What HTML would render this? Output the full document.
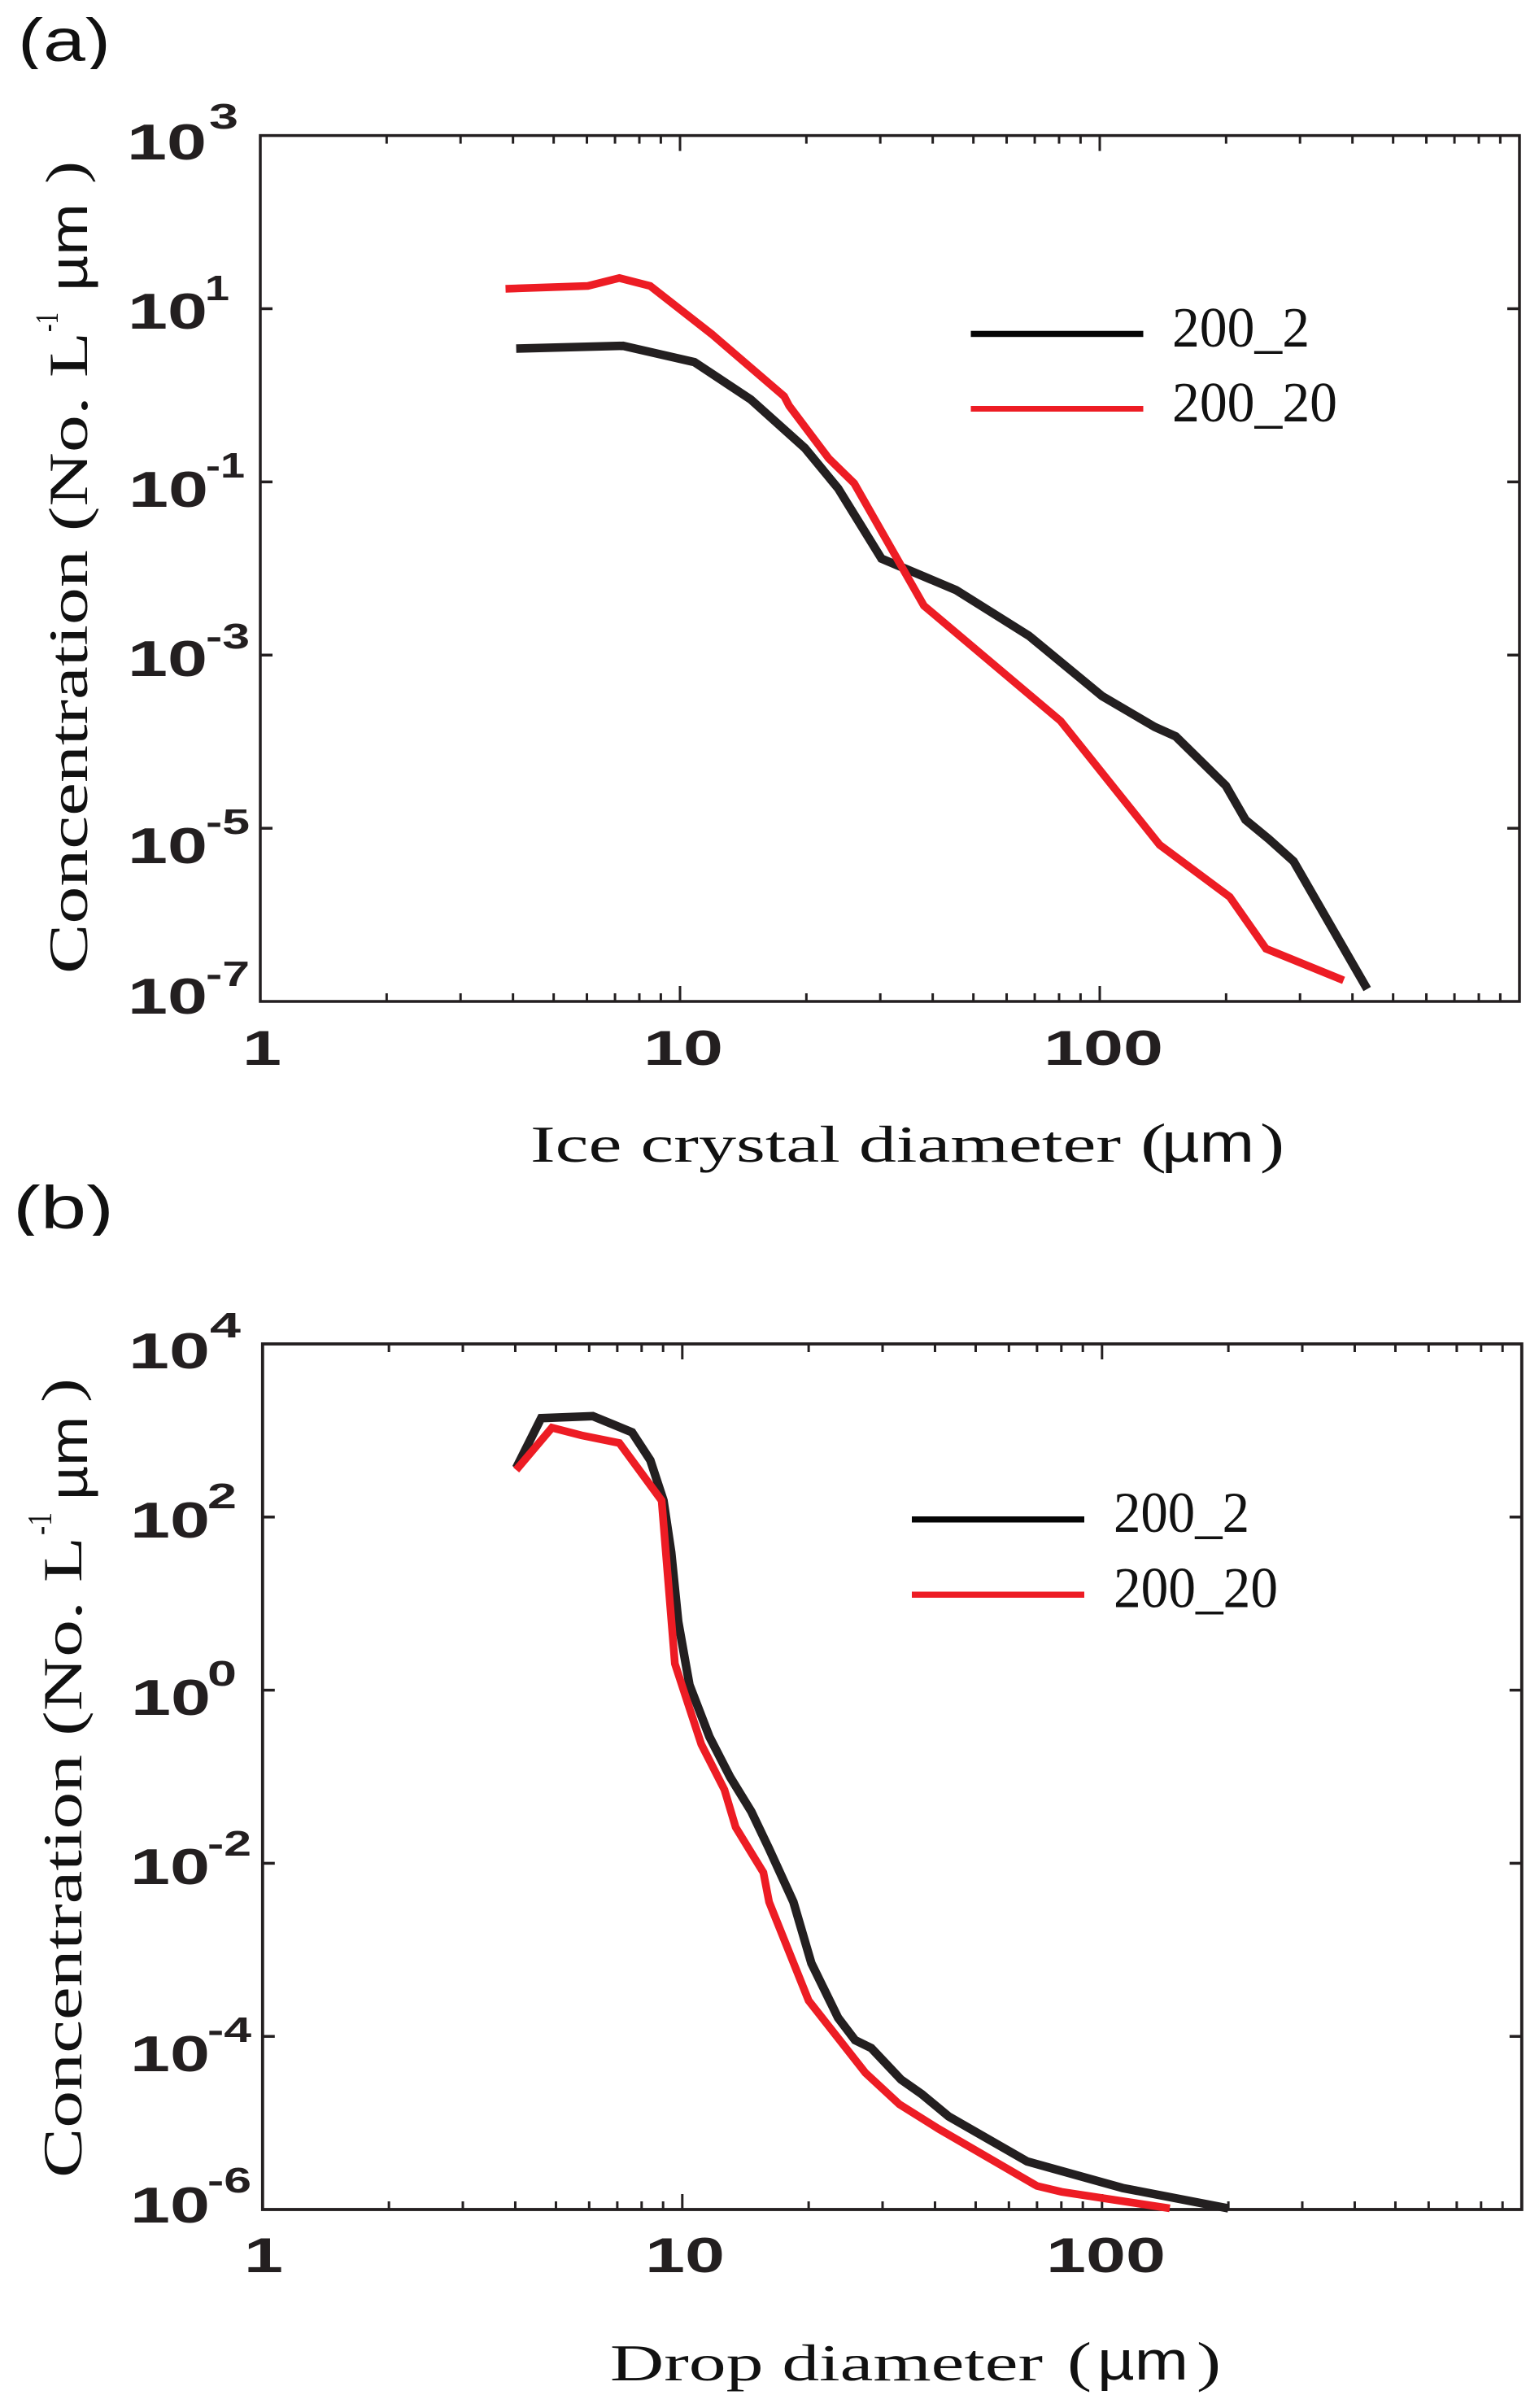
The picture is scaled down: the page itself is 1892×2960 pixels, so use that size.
<!DOCTYPE html>
<html lang="en">
<head>
<meta charset="utf-8">
<title>Ice crystal and drop size distributions</title>
<style>
html,body{margin:0;padding:0;background:#fff;}
svg{display:block;}
.tick-label{font-family:"Liberation Sans",sans-serif;font-weight:700;fill:#231f20;}
.serif{font-family:"Liberation Serif",serif;fill:#111;}
.sans{font-family:"Liberation Sans",sans-serif;fill:#111;}
</style>
</head>
<body>
<svg id="figure" xmlns="http://www.w3.org/2000/svg" width="1892" height="2960" viewBox="0 0 1892 2960">
  <defs>
    <clipPath id="clip-label-a"><rect x="0" y="19" width="200" height="66"/></clipPath>
    <clipPath id="clip-label-b"><rect x="0" y="1453" width="200" height="66"/></clipPath>
  </defs>
  <rect x="0" y="0" width="1892" height="2960" fill="#ffffff"/>

  <!-- Panel a static text -->
  <g>
    <g clip-path="url(#clip-label-a)">
      <text class="sans" x="22" y="75" font-size="74" textLength="114" lengthAdjust="spacingAndGlyphs">(a)</text>
    </g>

    <g>
      <text class="tick-label" x="156" y="196" font-size="62" textLength="98" lengthAdjust="spacingAndGlyphs">10</text>
      <text class="tick-label" x="257" y="158" font-size="44" textLength="36" lengthAdjust="spacingAndGlyphs">3</text>
      <text class="tick-label" x="157" y="404" font-size="62" textLength="98" lengthAdjust="spacingAndGlyphs">10</text>
      <text class="tick-label" x="252" y="369" font-size="44" textLength="30" lengthAdjust="spacingAndGlyphs">1</text>
      <text class="tick-label" x="158" y="623" font-size="62" textLength="98" lengthAdjust="spacingAndGlyphs">10</text>
      <text class="tick-label" x="253" y="587" font-size="44" textLength="48" lengthAdjust="spacingAndGlyphs">-1</text>
      <text class="tick-label" x="157" y="831" font-size="62" textLength="98" lengthAdjust="spacingAndGlyphs">10</text>
      <text class="tick-label" x="253" y="797" font-size="44" textLength="54" lengthAdjust="spacingAndGlyphs">-3</text>
      <text class="tick-label" x="157" y="1061" font-size="62" textLength="98" lengthAdjust="spacingAndGlyphs">10</text>
      <text class="tick-label" x="253" y="1025" font-size="44" textLength="54" lengthAdjust="spacingAndGlyphs">-5</text>
      <text class="tick-label" x="157" y="1246" font-size="62" textLength="98" lengthAdjust="spacingAndGlyphs">10</text>
      <text class="tick-label" x="253" y="1212" font-size="44" textLength="54" lengthAdjust="spacingAndGlyphs">-7</text>
    </g>

    <g>
      <text class="tick-label" x="298" y="1309" font-size="60" textLength="48" lengthAdjust="spacingAndGlyphs">1</text>
      <text class="tick-label" x="791" y="1309" font-size="60" textLength="98" lengthAdjust="spacingAndGlyphs">10</text>
      <text class="tick-label" x="1283" y="1309" font-size="60" textLength="147" lengthAdjust="spacingAndGlyphs">100</text>
    </g>

    <g>
      <text class="serif" transform="translate(107,1197) rotate(-90)" font-size="68" textLength="789" lengthAdjust="spacingAndGlyphs">Concentration (No. L</text>
      <text class="serif" transform="translate(71,408) rotate(-90)" font-size="40" textLength="24" lengthAdjust="spacingAndGlyphs">-1</text>
      <text class="sans" transform="translate(107,358) rotate(-90)" font-size="66" textLength="108" lengthAdjust="spacingAndGlyphs">µm</text>
      <text class="serif" transform="translate(103,226) rotate(-90)" font-size="68" textLength="28" lengthAdjust="spacingAndGlyphs">)</text>
    </g>

    <g>
      <text class="serif" x="652" y="1428" font-size="64" textLength="726" lengthAdjust="spacingAndGlyphs">Ice crystal diameter</text>
      <text class="serif" x="1402" y="1428" font-size="68" textLength="32" lengthAdjust="spacingAndGlyphs">(</text>
      <text class="sans" x="1428" y="1428" font-size="68" textLength="114" lengthAdjust="spacingAndGlyphs">µm</text>
      <text class="serif" x="1549" y="1428" font-size="68" textLength="30" lengthAdjust="spacingAndGlyphs">)</text>
    </g>

    <g>
      <rect x="1193.5" y="406.7" width="212" height="7.5" fill="#050505"/>
      <text class="serif" x="1441" y="426" font-size="70" textLength="169" lengthAdjust="spacingAndGlyphs">200_2</text>
      <rect x="1193.5" y="499" width="212" height="7" fill="#ed1c24"/>
      <text class="serif" x="1441" y="518" font-size="70" textLength="203" lengthAdjust="spacingAndGlyphs">200_20</text>
    </g>
  </g>

  <!-- Panel b static text -->
  <g>
    <g clip-path="url(#clip-label-b)">
      <text class="sans" x="16" y="1510" font-size="74" textLength="124" lengthAdjust="spacingAndGlyphs">(b)</text>
    </g>

    <g>
      <text class="tick-label" x="158" y="1682" font-size="62" textLength="100" lengthAdjust="spacingAndGlyphs">10</text>
      <text class="tick-label" x="258" y="1644" font-size="44" textLength="38" lengthAdjust="spacingAndGlyphs">4</text>
      <text class="tick-label" x="160" y="1890" font-size="62" textLength="98" lengthAdjust="spacingAndGlyphs">10</text>
      <text class="tick-label" x="255" y="1854" font-size="44" textLength="36" lengthAdjust="spacingAndGlyphs">2</text>
      <text class="tick-label" x="161" y="2108" font-size="62" textLength="98" lengthAdjust="spacingAndGlyphs">10</text>
      <text class="tick-label" x="255" y="2072" font-size="44" textLength="36" lengthAdjust="spacingAndGlyphs">0</text>
      <text class="tick-label" x="160" y="2316" font-size="62" textLength="98" lengthAdjust="spacingAndGlyphs">10</text>
      <text class="tick-label" x="255" y="2281" font-size="44" textLength="54" lengthAdjust="spacingAndGlyphs">-2</text>
      <text class="tick-label" x="160" y="2546" font-size="62" textLength="98" lengthAdjust="spacingAndGlyphs">10</text>
      <text class="tick-label" x="255" y="2510" font-size="44" textLength="54" lengthAdjust="spacingAndGlyphs">-4</text>
      <text class="tick-label" x="160" y="2732" font-size="62" textLength="98" lengthAdjust="spacingAndGlyphs">10</text>
      <text class="tick-label" x="255" y="2695" font-size="44" textLength="54" lengthAdjust="spacingAndGlyphs">-6</text>
    </g>

    <g>
      <text class="tick-label" x="300" y="2793" font-size="60" textLength="48" lengthAdjust="spacingAndGlyphs">1</text>
      <text class="tick-label" x="793" y="2793" font-size="60" textLength="98" lengthAdjust="spacingAndGlyphs">10</text>
      <text class="tick-label" x="1286" y="2793" font-size="60" textLength="147" lengthAdjust="spacingAndGlyphs">100</text>
    </g>

    <g>
      <text class="serif" transform="translate(100,2677) rotate(-90)" font-size="68" textLength="788" lengthAdjust="spacingAndGlyphs">Concentration (No. L</text>
      <text class="serif" transform="translate(63,1887) rotate(-90)" font-size="42" textLength="28" lengthAdjust="spacingAndGlyphs">-1</text>
      <text class="sans" transform="translate(107,1844) rotate(-90)" font-size="66" textLength="103" lengthAdjust="spacingAndGlyphs">µm</text>
      <text class="serif" transform="translate(98,1724) rotate(-90)" font-size="68" textLength="30" lengthAdjust="spacingAndGlyphs">)</text>
    </g>

    <g>
      <text class="serif" x="750" y="2926" font-size="64" textLength="532" lengthAdjust="spacingAndGlyphs">Drop diameter</text>
      <text class="serif" x="1312" y="2926" font-size="68" textLength="30" lengthAdjust="spacingAndGlyphs">(</text>
      <text class="sans" x="1349" y="2925" font-size="68" textLength="112" lengthAdjust="spacingAndGlyphs">µm</text>
      <text class="serif" x="1471" y="2926" font-size="68" textLength="30" lengthAdjust="spacingAndGlyphs">)</text>
    </g>

    <g>
      <rect x="1121" y="1864" width="212" height="7.5" fill="#050505"/>
      <text class="serif" x="1369" y="1883" font-size="71" textLength="167" lengthAdjust="spacingAndGlyphs">200_2</text>
      <rect x="1121" y="1956.5" width="212" height="7.5" fill="#ed1c24"/>
      <text class="serif" x="1369" y="1975.5" font-size="71" textLength="202" lengthAdjust="spacingAndGlyphs">200_20</text>
    </g>
  </g>
</svg>

<script>
// Panel (a): ice crystal size distribution
var iceDiameter2 = [4.07, 7.32, 10.82, 14.74, 19.83, 23.8, 30.2, 45.5, 67.8, 101.3, 135.2, 151.7, 199.7, 222.5, 253.2, 289.6, 433.7];
var iceConc2 = [3.46, 3.73, 2.42, 0.895, 0.246, 0.0843, 0.013, 0.00562, 0.00167, 3.36e-4, 1.48e-4, 1.15e-4, 3.1e-5, 1.25e-5, 7.45e-6, 4.16e-6, 1.39e-7];
var iceDiameter20 = [3.84, 6.03, 7.17, 8.49, 11.9, 17.7, 18.2, 22.6, 26.0, 38.1, 80.7, 138.9, 204, 249, 381];
var iceConc20 = [17.0, 18.3, 22.6, 18.3, 5.09, 0.975, 0.755, 0.187, 0.0964, 0.00372, 1.73e-4, 6.44e-6, 1.61e-6, 4.06e-7, 1.75e-7];

// Panel (b): drop size distribution
var dropDiameter2 = [4.02, 4.61, 6.12, 7.59, 8.39, 9.02, 9.41, 9.78, 10.4, 11.6, 13.0, 14.6, 16.1, 18.4, 20.3, 23.5, 25.8, 28.2, 33.2, 37.2, 43.1, 66.3, 112, 200];
var dropConc2 = [369, 1390, 1465, 953, 453, 155, 39.0, 6.19, 1.15, 0.29, 0.0991, 0.0397, 0.0147, 0.00357, 7.0e-4, 1.64e-4, 9.06e-5, 7.34e-5, 3.17e-5, 2.15e-5, 1.19e-5, 3.59e-6, 1.77e-6, 1.03e-6];
var dropDiameter20 = [4.02, 4.89, 5.75, 7.08, 8.93, 9.60, 11.1, 12.6, 13.4, 15.6, 16.1, 20.0, 27.3, 32.9, 40.8, 70.0, 80.1, 145];
var dropConc20 = [350, 1076, 879, 716, 155, 2.02, 0.236, 0.0708, 0.0261, 0.00782, 0.00357, 2.59e-4, 3.79e-5, 1.64e-5, 8.53e-6, 1.87e-6, 1.60e-6, 1.03e-6];

// Axis decades
var xDecades = [0, 1, 2];
var iceYDecades = [3, 1, -1, -3, -5, -7];
var dropYDecades = [4, 2, 0, -2, -4, -6];
var minorMultipliers = [2, 3, 4, 5, 6, 7, 8, 9];

var NS = 'http://www.w3.org/2000/svg';
var INK = '#231f20';
var RED = '#ed1c24';
var figure = document.getElementById('figure');

function makeLine(parent, x1, y1, x2, y2, width) {
  var l = document.createElementNS(NS, 'line');
  l.setAttribute('x1', x1);
  l.setAttribute('y1', y1);
  l.setAttribute('x2', x2);
  l.setAttribute('y2', y2);
  l.setAttribute('stroke', INK);
  l.setAttribute('stroke-width', width);
  parent.appendChild(l);
  return l;
}

function drawSeries(parent, xs, ys, xScale, yScale, color, width) {
  var pts = [];
  for (var i = 0; i < xs.length; i++) {
    pts.push(xScale(xs[i]).toFixed(1) + ',' + yScale(ys[i]).toFixed(1));
  }
  var p = document.createElementNS(NS, 'polyline');
  p.setAttribute('points', pts.join(' '));
  p.setAttribute('fill', 'none');
  p.setAttribute('stroke', color);
  p.setAttribute('stroke-width', width);
  p.setAttribute('stroke-linejoin', 'miter');
  p.setAttribute('stroke-linecap', 'butt');
  parent.appendChild(p);
  return p;
}

function drawPanel(geom, yDecades, d2, c2, d20, c20, prefix) {
  var left = geom.left, right = geom.right, top = geom.top, bottom = geom.bottom;
  var xDec = (right - left) / 3;
  var yDec = (bottom - top) / (yDecades[0] - yDecades[yDecades.length - 1]);
  var xScale = function (v) { return left + xDec * Math.log10(v); };
  var yScale = function (v) { return top + yDec * (yDecades[0] - Math.log10(v)); };

  var g = document.createElementNS(NS, 'g');
  
  
  figure.appendChild(g);

  var axes = document.createElementNS(NS, 'g');
  
  
  g.appendChild(axes);

  var frame = document.createElementNS(NS, 'rect');
  
  
  frame.setAttribute('x', left);
  frame.setAttribute('y', top);
  frame.setAttribute('width', right - left);
  frame.setAttribute('height', bottom - top);
  frame.setAttribute('fill', 'none');
  frame.setAttribute('stroke', INK);
  frame.setAttribute('stroke-width', geom.frameWidth);
  axes.appendChild(frame);

  // x ticks
  xDecades.forEach(function (d) {
    var base = Math.pow(10, d);
    var mx = xScale(base);
    if (d > 0) {
      var mb = makeLine(axes, mx, bottom, mx, bottom - 19, 3);
      
      
      var mt = makeLine(axes, mx, top, mx, top + 19, 3);
      
      
    }
    minorMultipliers.forEach(function (m) {
      var x = xScale(base * m);
      var b = makeLine(axes, x, bottom, x, bottom - 10, 3);
      
      
      var t = makeLine(axes, x, top, x, top + 10, 3);
      
      
    });
  });

  // y ticks
  yDecades.slice(1, -1).forEach(function (d) {
    var y = yScale(Math.pow(10, d));
    var a = makeLine(axes, left, y, left + 15, y, 3.5);
    
    
    var b = makeLine(axes, right, y, right - 15, y, 3.5);
    
    
  });

  var s2 = drawSeries(g, d2, c2, xScale, yScale, INK, 10.5);
  
  
  var s20 = drawSeries(g, d20, c20, xScale, yScale, RED, 9.5);
  
  
}

drawPanel({left: 320, right: 1868, top: 166.6, bottom: 1231, frameWidth: 3.5}, iceYDecades, iceDiameter2, iceConc2, iceDiameter20, iceConc20, 'panel-a');
drawPanel({left: 322.8, right: 1870.8, top: 1652, bottom: 2716, frameWidth: 3.8}, dropYDecades, dropDiameter2, dropConc2, dropDiameter20, dropConc20, 'panel-b');
</script>
</body>
</html>
